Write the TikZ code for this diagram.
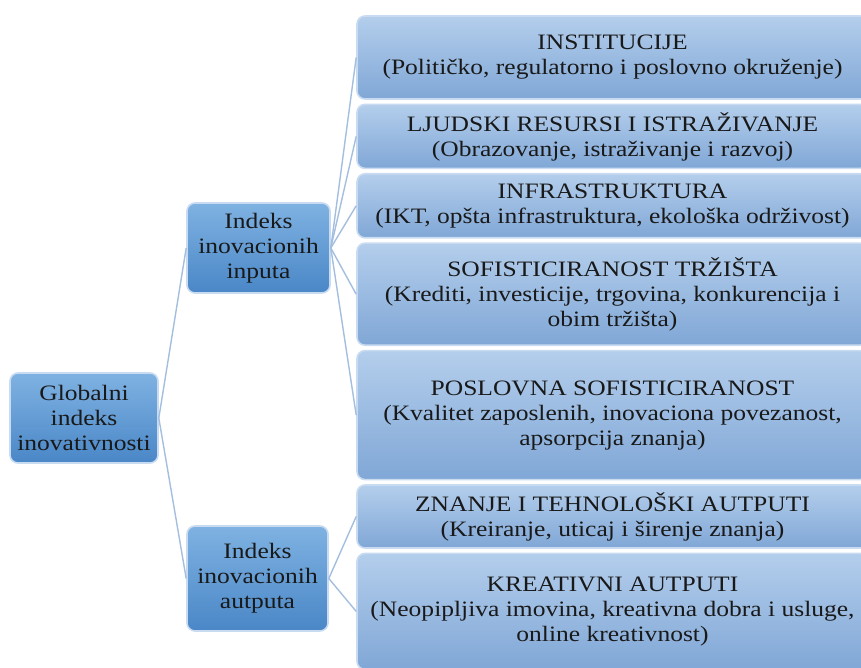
\documentclass[tikz,border=0pt]{standalone}
\usepackage{fontspec}
\setmainfont{Liberation Serif}[FakeStretch=1.16]
\usepackage{tikz}
\usetikzlibrary{positioning}

\definecolor{mainTop}{HTML}{7FB2E2}
\definecolor{mainBot}{HTML}{4A87C7}
\definecolor{subTop}{HTML}{B4CEEC}
\definecolor{subBot}{HTML}{80A7D6}
\definecolor{rimCol}{HTML}{C9DBF0}
\definecolor{linkCol}{HTML}{A3BEDF}

\begin{document}
\begin{tikzpicture}[
x=0.5pt, y=-0.5pt,
box/.style={rectangle, rounded corners=4pt, draw=rimCol, line width=0.8pt,
align=center, inner sep=2pt, text=black!90,
font=\fontsize{11}{12.5}\selectfont},
mainbox/.style={box, top color=mainTop, bottom color=mainBot},
subbox/.style={box, top color=subTop, bottom color=subBot,
minimum width=255.5pt},
link/.style={draw=linkCol, line width=0.7pt},
node distance=1.9pt
]
\useasboundingbox (0,0) rectangle (861,668);
\clip (0,0) rectangle (861,668);

% left and middle column
\node[mainbox, minimum width=74pt, minimum height=45pt] (glob) at (84,418)
{Globalni\\indeks\\inovativnosti};
\node[mainbox, minimum width=71.5pt, minimum height=45pt] (inp) at (258.5,248)
{Indeks\\inovacionih\\inputa};
\node[mainbox, minimum width=70.5pt, minimum height=52.5pt] (aut) at (257.5,578.5)
{Indeks\\inovacionih\\autputa};

% right column
\node[subbox, minimum height=41.5pt] (inst) at (612.5,57.5)
{INSTITUCIJE\\(Političko, regulatorno i poslovno okruženje)};
\node[subbox, minimum height=32pt, below=of inst] (ljud)
{LJUDSKI RESURSI I ISTRAŽIVANJE\\(Obrazovanje, istraživanje i razvoj)};
\node[subbox, minimum height=32pt, below=of ljud] (infra)
{INFRASTRUKTURA\\(IKT, opšta infrastruktura, ekološka održivost)};
\node[subbox, minimum height=51pt, below=of infra] (trz)
{SOFISTICIRANOST TRŽIŠTA\\(Krediti, investicije, trgovina, konkurencija i\\obim tržišta)};
\node[subbox, minimum height=64.5pt, below=of trz] (posl)
{POSLOVNA SOFISTICIRANOST\\(Kvalitet zaposlenih, inovaciona povezanost,\\apsorpcija znanja)};
\node[subbox, minimum height=31.5pt, below=of posl] (znanje)
{ZNANJE I TEHNOLOŠKI AUTPUTI\\(Kreiranje, uticaj i širenje znanja)};
\node[subbox, minimum height=58pt, below=of znanje] (kreat)
{KREATIVNI AUTPUTI\\(Neopipljiva imovina, kreativna dobra i usluge,\\online kreativnost)};

% connectors
\draw[link] (glob.east) -- (inp.west);
\draw[link] (glob.east) -- (aut.west);
\foreach \t in {inst, ljud, infra, trz, posl}
\draw[link] (inp.east) -- (\t.west);
\foreach \t in {znanje, kreat}
\draw[link] (aut.east) -- (\t.west);
\end{tikzpicture}
\end{document}
